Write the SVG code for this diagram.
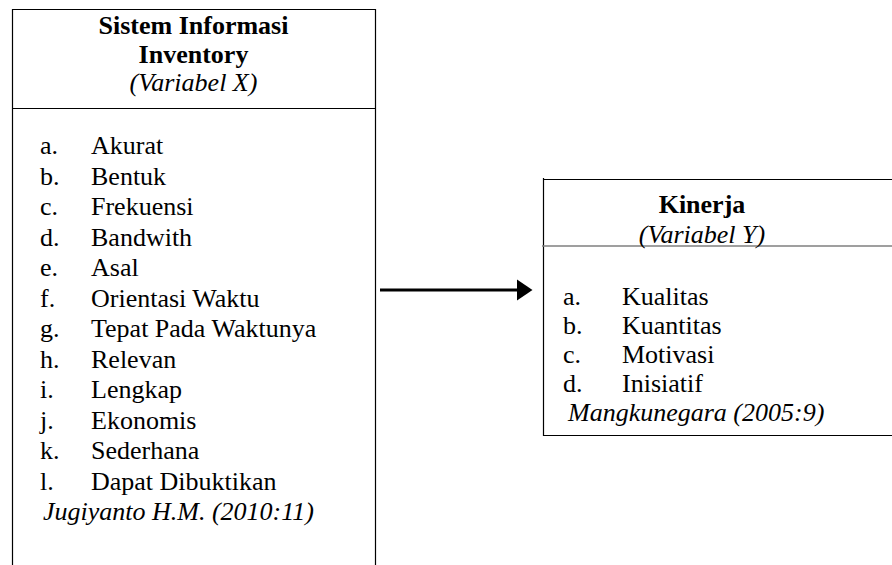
<svg xmlns="http://www.w3.org/2000/svg" width="892" height="565" viewBox="0 0 892 565">
<style>
text{font-family:"Liberation Serif","Times New Roman",serif;font-size:26px;fill:#000}
.b{font-weight:bold}
.i{font-style:italic}
.c{text-anchor:middle}
.ln{stroke:#000;stroke-width:1.2;fill:none}
.gr{stroke:#7f7f7f;stroke-width:1.5;fill:none}
</style>
<rect width="892" height="565" fill="#fff"/>
<g id="node-x">
<path class="ln" d="M12.5,565 V9.5 H375.5 V565"/>
<line class="ln" x1="12" y1="108.5" x2="376" y2="108.5"/>
<text class="b c" x="193.5" y="34">Sistem Informasi</text>
<text class="b c" x="193.5" y="63">Inventory</text>
<text class="i c" x="193.5" y="91">(Variabel X)</text>
<text x="40" y="154">a.</text><text x="91" y="154">Akurat</text>
<text x="40" y="184.5">b.</text><text x="91" y="184.5">Bentuk</text>
<text x="40" y="215">c.</text><text x="91" y="215">Frekuensi</text>
<text x="40" y="245.5">d.</text><text x="91" y="245.5">Bandwith</text>
<text x="40" y="276">e.</text><text x="91" y="276">Asal</text>
<text x="40" y="306.5">f.</text><text x="91" y="306.5">Orientasi Waktu</text>
<text x="40" y="337">g.</text><text x="91" y="337">Tepat Pada Waktunya</text>
<text x="40" y="367.5">h.</text><text x="91" y="367.5">Relevan</text>
<text x="40" y="398">i.</text><text x="91" y="398">Lengkap</text>
<text x="40" y="428.5">j.</text><text x="91" y="428.5">Ekonomis</text>
<text x="40" y="459">k.</text><text x="91" y="459">Sederhana</text>
<text x="40" y="489.5">l.</text><text x="91" y="489.5">Dapat Dibuktikan</text>
<text class="i" x="43" y="520">Jugiyanto H.M. (2010:11)</text>
</g>
<g id="node-y">
<path class="ln" d="M543.5,178 V435.5 H892"/>
<line class="ln" x1="543" y1="179.5" x2="892" y2="179.5"/>
<line class="gr" x1="542" y1="246" x2="892" y2="246"/>
<text class="b c" x="702" y="213">Kinerja</text>
<text class="i c" x="702" y="243">(Variabel Y)</text>
<text x="563" y="305">a.</text><text x="622" y="305">Kualitas</text>
<text x="563" y="334">b.</text><text x="622" y="334">Kuantitas</text>
<text x="563" y="363">c.</text><text x="622" y="363">Motivasi</text>
<text x="563" y="392">d.</text><text x="622" y="392">Inisiatif</text>
<text class="i" x="568" y="421">Mangkunegara (2005:9)</text>
</g>
<g id="connectors">
<line x1="380" y1="290" x2="518" y2="290" stroke="#000" stroke-width="3"/>
<polygon points="517,279.5 532.5,290 517,300.5" fill="#000"/>
</g>
</svg>
